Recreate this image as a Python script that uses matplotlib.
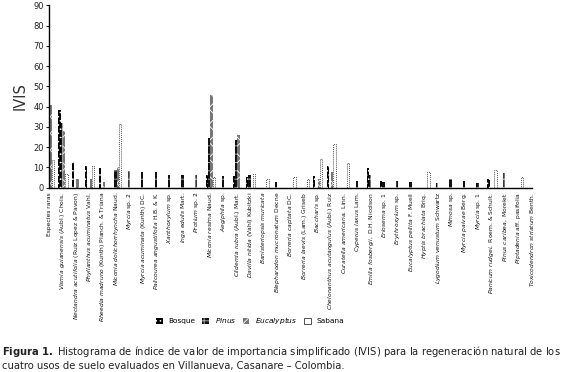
import numpy as np
import matplotlib
matplotlib.use("Agg")
import matplotlib.pyplot as plt
from matplotlib.patches import Patch

plt.rcParams['hatch.linewidth'] = 0.6
plt.rcParams['mathtext.fontset'] = 'dejavusans'

# --- data -------------------------------------------------------------
species = [
    ("", "Especies raras"),
    ("Vismia guianensis", " (Aubl.) Chois."),
    ("Nectandra acutifolia", " (Ruiz Lopez & Pavon)"),
    ("Phyllanthus acuminatus", " Vahl."),
    ("Rheedia madruno", " (Kunth) Planch. & Triana"),
    ("Miconia dolichorrhyncha", " Naud."),
    ("Myrcia", " sp. 2"),
    ("Myrcia acuminata", " (Kunth) DC."),
    ("Palicourea angustifolia", " H.B. & K."),
    ("Xanthoxylum", " sp."),
    ("Inga edulis", " Mart."),
    ("Protium", " sp. 2"),
    ("Miconia resima", " Naud."),
    ("Aegiphila", " sp."),
    ("Clidemia rubra", " (Aubl.) Mart."),
    ("Davilla nitida", " (Vahl) Kubitzki"),
    ("Banisteriopsis muricata", ""),
    ("Blepharodon mucronatum", " Decne"),
    ("Borreria capitata", " DC."),
    ("Borreria laevis", " (Lam.) Griseb"),
    ("Baccharis", " sp."),
    ("Chelonanthus acutangulus", " (Aubl.) Ruiz"),
    ("Curatella americana,", " Linn."),
    ("Cyperus laxus", " Lam."),
    ("Emilia fosbergii,", " D.H. Nicolson"),
    ("Eriosema", " sp. 1"),
    ("Erythroxylum", " sp."),
    ("Eucalyptus pellita", " F. Muell"),
    ("Hyptis brachiata", " Briq."),
    ("Lygodium venustum", " Schwartz"),
    ("Mimosa", " sp."),
    ("Myrcia paivae", " Berg."),
    ("Myrcia", " sp. 1"),
    ("Panicum rudgei,", " Roem. & Schult."),
    ("Pinus caribea,", " Morelet"),
    ("Piptadenia", " aff. pasifolia"),
    ("Toxicodendron striatum", " Benth."),
]

bosque = [0, 38.3, 12.8, 10.7, 9.7, 0, 0, 0, 0, 0, 0, 0, 6.3, 0, 5.8, 5.1, 0, 0, 0, 0,
          5.8, 10.7, 0, 0, 9.6, 3.3, 0, 0, 0, 0, 0, 0, 0, 4.3, 0, 0, 0]
pinus = [0, 32.0, 0, 0, 0, 8.7, 8.3, 7.6, 7.6, 6.3, 6.3, 6.3, 24.4, 5.8, 23.5, 6.3, 0, 2.8, 0, 0,
         0, 0, 0, 3.3, 6.3, 2.6, 3.3, 2.8, 0, 2.3, 4.3, 3.3, 2.3, 0, 7.3, 0, 0]
eucalyptus = [41.0, 28.0, 4.3, 4.3, 2.8, 10.4, 0, 0, 0, 0, 0, 0, 45.7, 0, 26.0, 0, 0, 0, 0, 0,
              4.3, 7.6, 0, 0, 0, 0, 0, 0, 0, 0, 0, 0, 0, 0, 0, 0, 0]
sabana = [13.5, 6.8, 0, 10.7, 0, 31.4, 0, 0, 0, 0, 0, 0, 5.4, 0, 0, 6.8, 4.1, 0, 5.1, 4.1,
          14.2, 21.6, 12.0, 0, 0, 0, 0, 0, 7.7, 0, 0, 0, 0, 8.7, 0, 5.1, 0]

yticks = np.arange(0, 91, 10)


def make_label(ital, rest):
    if not ital:
        return rest
    return r"$\it{" + ital.replace(" ", r"\ ") + "}$" + rest


labels = [make_label(a, b) for a, b in species]

# --- figure -------------------------------------------------------------
fig = plt.figure(figsize=(5.65, 3.72), dpi=100)
ax = fig.add_axes([0.0873, 0.4954, 0.8543, 0.4904])

x = np.arange(len(species))
w = 0.172
styles = [
    ("Bosque", bosque, dict(facecolor="black", edgecolor="white", hatch="....")),
    ("$\\it{Pinus}$", pinus, dict(facecolor="#111111", edgecolor="#bbbbbb", hatch="++")),
    ("$\\it{Eucalyptus}$", eucalyptus, dict(facecolor="#777777", edgecolor="white", hatch="xx")),
    ("Sabana", sabana, dict(facecolor="white", edgecolor="#555555", hatch="")),
]
handles = []
for k, (name, vals, st) in enumerate(styles):
    off = (k - 1.5) * w + 0.1 * w
    if name == "Sabana":
        ax.bar(x + off, vals, w, color="white", edgecolor="#555555", linewidth=0.7,
               linestyle=(0, (1, 1)), clip_on=True)
    else:
        ax.bar(x + off, vals, w, color=st["facecolor"], edgecolor=st["edgecolor"],
               hatch=st["hatch"], linewidth=0, clip_on=True)
    handles.append(Patch(facecolor=st["facecolor"], edgecolor=st["edgecolor"] if name != "Sabana" else "#333333",
                         hatch=st["hatch"], linewidth=0.6 if name == "Sabana" else 0, label=name))

ax.set_xlim(0, 36)
ax.set_ylim(0, 90)
ax.set_yticks(yticks)
ax.tick_params(axis='y', labelsize=6, length=2.5, width=0.8, pad=1.5, colors="#222222")
ax.set_xticks(x)
ax.set_xticklabels(labels, rotation=90, fontsize=4.35, color="#111111")
ax.tick_params(axis='x', length=0, pad=3)
ax.set_ylabel("IVIS", fontsize=10.5, color="#333333", labelpad=4)
for s in ["top", "right"]:
    ax.spines[s].set_visible(False)
for s in ["left", "bottom"]:
    ax.spines[s].set_linewidth(1.0)

fig.legend(handles=handles, loc="center", bbox_to_anchor=(0.443, 0.138), ncol=4, frameon=False,
           fontsize=5.3, handlelength=0.9, handleheight=0.9, columnspacing=0.9, handletextpad=0.8)

fig.text(0.004, 0.046, r"$\bf{Figura\ 1.}$ Histograma de índice de valor de importancia simplificado (IVIS) "
         "para la regeneración natural de los", fontsize=7.2, color="#222222")
fig.text(0.004, 0.008, "cuatro usos de suelo evaluados en Villanueva, Casanare – Colombia.",
         fontsize=7.2, color="#222222")

fig.savefig("out.png", dpi=100)
